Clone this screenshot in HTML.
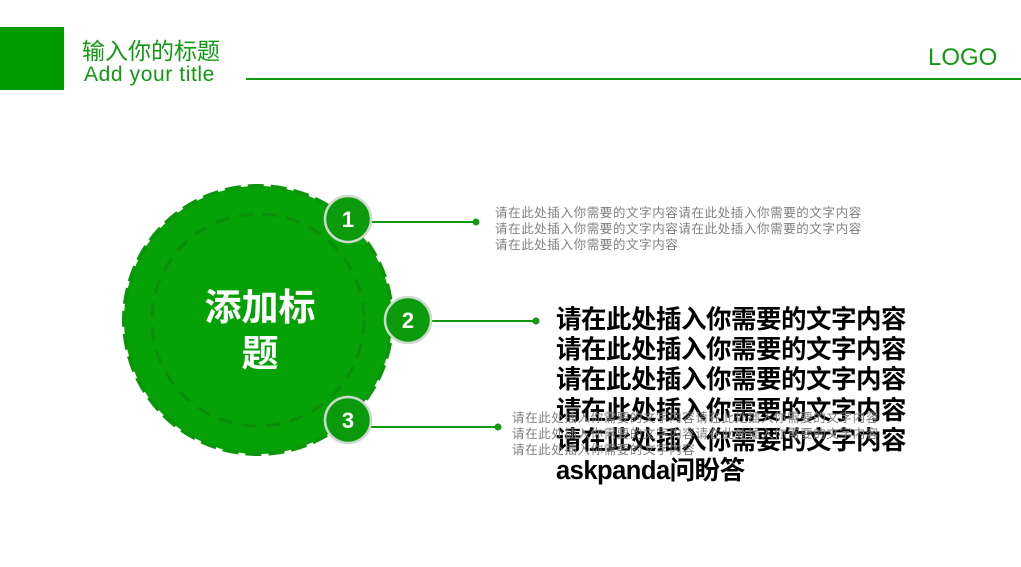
<!DOCTYPE html>
<html><head><meta charset="utf-8"><style>
body{margin:0;width:1021px;height:567px;background:#fff;position:relative;overflow:hidden;font-family:"Liberation Sans","Noto Sans CJK SC",sans-serif}
.a{position:absolute;white-space:nowrap}
.sm{color:#7f7f7f;font-size:12.5px;line-height:16px;letter-spacing:0.6px}
.big{color:#000;font-weight:bold;font-size:25.5px;line-height:30.2px;letter-spacing:-0.5px}
</style></head><body>
<div class="a" style="left:0;top:27px;width:64px;height:63px;background:#009900"></div>
<div class="a" style="left:82px;top:32px;font-size:23px;color:#119911">输入你的标题</div>
<div class="a" style="left:84px;top:63px;font-size:21px;color:#119911;letter-spacing:0.6px">Add your title</div>
<div class="a" style="left:246px;top:78px;width:775px;height:1.5px;background:#119911"></div>
<div class="a" style="left:928px;top:44px;font-size:24px;color:#119911">LOGO</div>
<svg class="a" style="left:0;top:0" width="1021" height="567">
<circle cx="258" cy="320" r="134" fill="#06a106" stroke="#0a950a" stroke-width="4" stroke-dasharray="16 7"/>
<circle cx="258" cy="320" r="106" fill="none" stroke="#0b8d0b" stroke-width="3" stroke-dasharray="14 10"/>
<g stroke="#119911" stroke-width="2"><line x1="371" y1="222" x2="476" y2="222"/><line x1="431" y1="321" x2="536" y2="321"/><line x1="371" y1="427" x2="498" y2="427"/></g>
<g fill="#119911"><circle cx="476" cy="222" r="3.5"/><circle cx="536" cy="321" r="3.5"/><circle cx="498" cy="427" r="3.5"/></g>
<g fill="#0b9a0b" stroke="#cfd8cf" stroke-width="2.5">
<circle cx="348" cy="219" r="23"/><circle cx="408" cy="320" r="23"/><circle cx="348" cy="420" r="23"/></g>
<g fill="#fff" font-weight="bold" font-size="22" text-anchor="middle" font-family="Liberation Sans,sans-serif">
<text x="348" y="227">1</text><text x="408" y="328">2</text><text x="348" y="428">3</text></g>
<g fill="#fff" font-weight="bold" font-size="37" text-anchor="middle" font-family="Liberation Sans,Noto Sans CJK SC,sans-serif">
<text x="260" y="320">添加标</text><text x="260" y="366">题</text></g>
</svg>
<div class="a sm" style="left:495px;top:205px">请在此处插入你需要的文字内容请在此处插入你需要的文字内容<br>请在此处插入你需要的文字内容请在此处插入你需要的文字内容<br>请在此处插入你需要的文字内容</div>
<div class="a big" style="left:556px;top:305px">请在此处插入你需要的文字内容<br>请在此处插入你需要的文字内容<br>请在此处插入你需要的文字内容<br>请在此处插入你需要的文字内容<br>请在此处插入你需要的文字内容<br>askpanda问盼答</div>
<div class="a sm" style="left:512px;top:410px">请在此处插入你需要的文字内容请在此处插入你需要的文字内容<br>请在此处插入你需要的文字内容请在此处插入你需要的文字内容<br>请在此处插入你需要的文字内容</div>
</body></html>
